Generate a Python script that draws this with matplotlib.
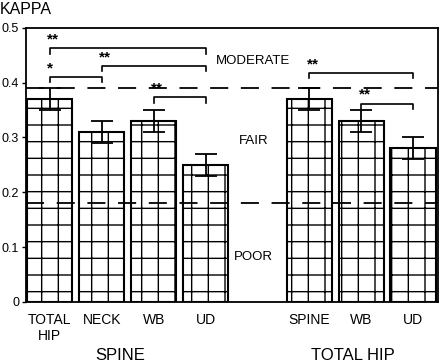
import matplotlib
matplotlib.use("Agg")
import matplotlib.pyplot as plt

plt.rcParams['font.family'] = ['Liberation Sans', 'DejaVu Sans']
plt.rcParams['hatch.linewidth'] = 1.0

# bar data
posicoes = [0, 1, 2, 3, 5, 6, 7]
nomes = ["TOTAL\nHIP", "NECK", "WB", "UD", "SPINE", "WB", "UD"]
kappa = [0.37, 0.31, 0.33, 0.25, 0.37, 0.33, 0.28]
erro = [0.02, 0.02, 0.02, 0.02, 0.02, 0.02, 0.02]

# dashed thresholds between categories
limites = [0.39, 0.18]
categorias = ["MODERATE", "FAIR", "POOR"]
cat_y = [0.44, 0.293, 0.082]

# significance brackets: (from, to, height, stars)
b_inicio = [0, 1, 0, 2, 5, 6]
b_fim = [3, 3, 1, 3, 7, 7]
b_altura = [0.463, 0.431, 0.411, 0.373, 0.418, 0.362]
b_estrelas = ["**", "**", "*", "**", "**", "**"]

grupos = ["SPINE", "TOTAL HIP"]
grupo_x = [1.35, 5.85]

fig = plt.figure(figsize=(4.41, 3.62), dpi=100)
ax = fig.add_axes([0.059, 0.166, 0.934, 0.757])

ax.bar(posicoes, kappa, width=0.87, color="white", edgecolor="black",
       linewidth=1.5, hatch="+", zorder=2)
ax.errorbar(posicoes, kappa, yerr=erro, fmt="none", ecolor="black",
            elinewidth=1.3, capsize=8, capthick=1.3, zorder=4)

for y in limites:
    ax.axhline(y, color="black", lw=1.3, dashes=(10, 7), zorder=3)

for nome, y in zip(categorias, cat_y):
    ax.text(3.92, y, nome, ha="center", va="center", fontsize=9.5)

for a, b, h, s in zip(b_inicio, b_fim, b_altura, b_estrelas):
    d = 0.01
    ax.plot([a, a, b, b], [h - d, h, h, h - d], color="black", lw=1.2, zorder=3)
    ax.text(a - 0.05, h + 0.003, s, ha="left", va="bottom", fontsize=11,
            fontweight="bold")

ax.set_xlim(-0.46, 7.48)
ax.set_ylim(0, 0.5)
ax.set_yticks([0, 0.1, 0.2, 0.3, 0.4, 0.5])
ax.set_yticklabels(["0", "0.1", "0.2", "0.3", "0.4", "0.5"], fontsize=9)
ax.set_xticks(posicoes)
ax.set_xticklabels(nomes, fontsize=10, linespacing=1.2)
ax.tick_params(axis="x", length=0, pad=8)
ax.tick_params(axis="y", length=3, width=1, pad=2)
for s in ax.spines.values():
    s.set_linewidth(1.3)

fig.text(0.0, 0.975, "KAPPA", ha="left", va="center", fontsize=11.5)
for g, x in zip(grupos, grupo_x):
    ax.text(x, -0.098, g, ha="center", va="center", fontsize=12)

fig.savefig("out.png", dpi=100)
